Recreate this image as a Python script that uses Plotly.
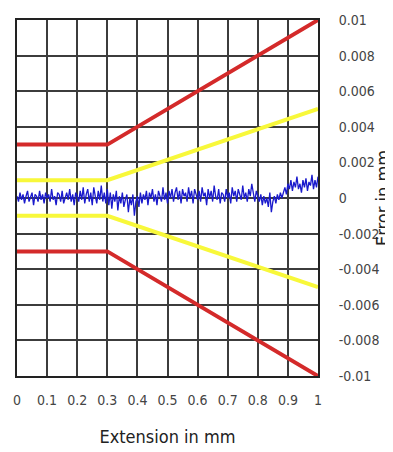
import numpy as np
import plotly.graph_objects as go

# Envelope lines (x in mm, error in mm)
env_x = [0.0, 0.3, 1.0]
red_upper = [0.003, 0.003, 0.010]
red_lower = [-0.003, -0.003, -0.010]
yellow_upper = [0.001, 0.001, 0.005]
yellow_lower = [-0.001, -0.001, -0.005]

meas_err = [
    0.0001, -0.0002, 0.0003, -0.0001, 0.0002, -0.0003, 0.0001, 0.0004, -0.0002, 0.0000, 0.0003,
    -0.0004, 0.0002, 0.0001, -0.0002, 0.0004, -0.0001, 0.0002, -0.0003, 0.0003, 0.0000,
    0.0002, -0.0002, 0.0005, -0.0001, 0.0001, -0.0004, 0.0003, 0.0002, -0.0002, 0.0004,
    -0.0003, 0.0001, 0.0003, -0.0001, 0.0005, -0.0002, 0.0002, -0.0004, 0.0003, 0.0001,
    -0.0002, 0.0004, -0.0001, 0.0006, -0.0003, 0.0002, 0.0005, -0.0002, 0.0003, -0.0004,
    0.0006, 0.0001, -0.0003, 0.0004, -0.0001, 0.0007, -0.0002, 0.0003, -0.0003, 0.0005,
    -0.0004, 0.0003, -0.0006, 0.0002, -0.0002, 0.0004, -0.0007, 0.0001, -0.0003, 0.0003,
    -0.0005, -0.0001, 0.0002, -0.0008, 0.0000, -0.0004, 0.0002, -0.0010, -0.0002, 0.0001,
    -0.0005, 0.0003, -0.0003, 0.0002, -0.0001, 0.0004, -0.0004, 0.0003, 0.0000, 0.0005,
    -0.0002, 0.0002, -0.0004, 0.0004, 0.0001, -0.0002, 0.0006, -0.0001, 0.0003, -0.0003,
    0.0004, 0.0000, 0.0005, -0.0002, 0.0003, 0.0006, -0.0001, 0.0004, -0.0003, 0.0005,
    0.0001, 0.0003, -0.0002, 0.0006, 0.0000, 0.0004, -0.0003, 0.0005, 0.0002, -0.0001,
    0.0004, -0.0002, 0.0006, 0.0001, 0.0003, -0.0004, 0.0005, 0.0000, 0.0004, -0.0002,
    0.0007, 0.0001, -0.0001, 0.0005, -0.0003, 0.0003, 0.0002, -0.0002, 0.0005, 0.0000,
    0.0003, -0.0003, 0.0006, 0.0001, 0.0004, -0.0002, 0.0005, 0.0002, -0.0001, 0.0007,
    0.0000, 0.0003, -0.0002, 0.0005, 0.0001, 0.0008, 0.0002, -0.0002, 0.0004, 0.0000,
    -0.0002, 0.0002, -0.0004, 0.0001, -0.0003, 0.0000, -0.0005, 0.0003, -0.0008, -0.0002,
    0.0001, -0.0003, 0.0002, -0.0001, 0.0003, 0.0000, 0.0004, 0.0006, 0.0002, 0.0008,
    0.0005, 0.0010, 0.0004, 0.0009, 0.0006, 0.0012, 0.0005, 0.0008, 0.0003, 0.0010,
    0.0006, 0.0011, 0.0004, 0.0009, 0.0007, 0.0013, 0.0005, 0.0010, 0.0006, 0.0012,
]
meas_x = np.linspace(0.0, 1.0, len(meas_err))

x_ticks = [0, 0.1, 0.2, 0.3, 0.4, 0.5, 0.6, 0.7, 0.8, 0.9, 1.0]
x_tick_text = ["0", "0.1", "0.2", "0.3", "0.4", "0.5", "0.6", "0.7", "0.8", "0.9", "1"]
y_ticks = [0.01, 0.008, 0.006, 0.004, 0.002, 0, -0.002, -0.004, -0.006, -0.008, -0.01]
y_tick_text = ["0.01", "0.008", "0.006", "0.004", "0.002", "0",
               "-0.002", "-0.004", "-0.006", "-0.008", "-0.01"]

FONT = "DejaVu Sans Condensed, Liberation Sans Narrow, DejaVu Sans, sans-serif"
RED = "#d42a2a"
YELLOW = "#f8f83a"
BLUE = "#1a1acc"

fig = go.Figure()
for ys, col in [(yellow_upper, YELLOW), (yellow_lower, YELLOW), (red_upper, RED), (red_lower, RED)]:
    fig.add_trace(go.Scatter(x=env_x, y=ys, mode="lines",
                             line=dict(color=col, width=4), showlegend=False,
                             hoverinfo="skip"))
fig.add_trace(go.Scatter(x=meas_x, y=meas_err, mode="lines",
                         line=dict(color=BLUE, width=1.3), showlegend=False))

tickfont = dict(family=FONT, size=14, color="#444")
titlefont = dict(family=FONT, size=18, color="#222")

# the page body adds an 8px offset; the figure is sized/margined to compensate
fig.update_layout(
    width=385, height=444,
    margin=dict(l=9, r=75, t=12, b=76, autoexpand=False),
    paper_bgcolor="white", plot_bgcolor="white",
    font=dict(family=FONT, size=13, color="#444"),
    showlegend=False,
)
fig.update_xaxes(
    range=[0, 1], tickvals=x_ticks, ticktext=x_tick_text, automargin=False,
    showgrid=True, gridcolor="#3c3c3c", gridwidth=1.6,
    showline=True, linecolor="#222", linewidth=2, mirror=True,
    zeroline=False, ticks="", ticklabelstandoff=10,
    tickfont=tickfont,
    title=dict(text="Extension in mm", font=titlefont, standoff=24),
)
fig.update_yaxes(
    range=[-0.01, 0.01], side="right", tickvals=y_ticks, ticktext=y_tick_text,
    automargin=False,
    showgrid=True, gridcolor="#3c3c3c", gridwidth=1.6,
    showline=True, linecolor="#222", linewidth=2, mirror=True,
    zeroline=False, ticks="", ticklabelstandoff=16,
    tickfont=tickfont,
    title=dict(text="Error in mm", font=titlefont, standoff=10),
)

fig.write_html("out.html")
